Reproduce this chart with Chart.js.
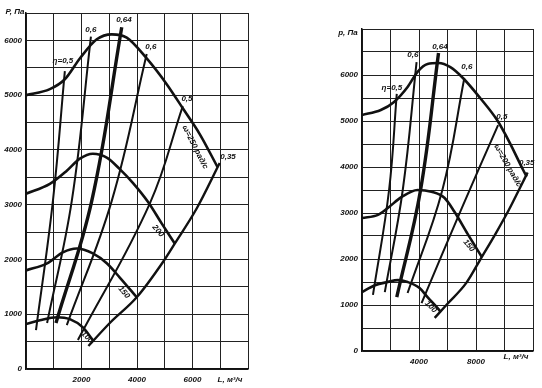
<!DOCTYPE html>
<html>
<head>
<meta charset="utf-8">
<script src="https://cdn.jsdelivr.net/npm/chart.js@4"></script>
<style>
  html, body { margin: 0; padding: 0; background: #fff; }
  body { width: 542px; height: 388px; position: relative; overflow: hidden; }
  canvas { position: absolute; left: 0; top: 0; }
</style>
</head>
<body>
<canvas id="left" width="542" height="388"></canvas>
<canvas id="right" width="542" height="388"></canvas>
<script>
// left chart, points are [L m3/h, P Pa]
const leftW250 = [[0,5000],[860,5110],[1400,5290],[1940,5670],[2550,6020],[3090,6110],[3630,6050],[4350,5670],[5070,5200],[5650,4760],[6260,4290],[6900,3690]];
const leftW200 = [[0,3200],[860,3380],[1470,3620],[1940,3840],[2410,3930],[2910,3860],[3380,3650],[3850,3400],[4400,3050],[4900,2650],[5360,2290]];
const leftW150 = [[0,1800],[760,1930],[1330,2130],[1830,2200],[2410,2110],[2910,1930],[3380,1670],[3990,1310]];
const leftW100 = [[0,820],[500,890],[1120,945],[1580,910],[2050,760],[2420,520]];
const leftEta05a = [[360,710],[970,3070],[1400,5440]];
const leftEta06a = [[760,840],[1650,3070],[2340,6070]];
const leftEta064 = [[1080,840],[2370,3070],[3450,6240]];
const leftEta06b = [[1470,800],[3090,3070],[4350,5750]];
const leftEta05b = [[1870,530],[4460,3020],[5650,4800]];
const leftEta035 = [[2250,420],[3020,840],[3990,1310],[4930,1950],[5360,2290],[6150,2930],[6980,3760]];

// right chart
const rightW200 = [[0,5130],[1320,5240],[2230,5410],[3200,5740],[3900,6070],[4600,6240],[5370,6260],[6200,6170],[7100,5930],[8290,5500],[9480,5020],[10380,4520],[11300,3940],[11560,3790]];
const rightW150 = [[0,2890],[1120,2960],[1810,3110],[2790,3350],[3900,3500],[4880,3460],[5780,3330],[6500,3020],[7400,2550],[8400,2050]];
const rightW100 = [[0,1280],[910,1430],[1810,1500],[2510,1540],[3200,1500],[4040,1370],[4600,1170],[5230,960],[5500,860]];
const rightEta05a = [[770,1220],[1900,3500],[2440,5590]];
const rightEta06a = [[1600,1280],[2860,3500],[3830,6280]];
const rightEta064 = [[2440,1170],[4110,3500],[5370,6480]];
const rightEta06b = [[3200,1260],[5640,3500],[7180,5930]];
const rightEta05b = [[4180,1040],[6950,3070],[9550,4910]];
const rightEta035 = [[5100,720],[5920,1000],[7320,1480],[8360,2020],[9410,2570],[10310,3070],[11010,3500],[11620,3880]];

const leftXLabels = [2000, 4000, 6000];
const rightXLabels = [4000, 8000];

// curve labels: [L, P, text, angle]
const leftNotes = [
  [1330,5620,'η=0,5',0],[2340,6200,'0,6',0],[3530,6370,'0,64',0],[4500,5880,'0,6',0],
  [5800,4930,'0,5',0],[7280,3870,'0,35',0],[6090,4050,'ω=250 рад/с',63],
  [4760,2520,'200',50],[3530,1400,'150',50],[2200,580,'100',45]
];
const rightNotes = [
  [2100,5730,'η=0,5',0],[3570,6450,'0,6',0],[5470,6620,'0,64',0],[7360,6170,'0,6',0],
  [9810,5100,'0,5',0],[11560,4100,'0,35',0],[10230,4030,'ω=200 рад/с',60],
  [7500,2290,'150',50],[4830,960,'100',45]
];

const ink = '#111';
const FONT = 'italic bold 8px "Liberation Sans", Arial, sans-serif';

Chart.defaults.font.family = '"Liberation Sans", Arial, sans-serif';
Chart.defaults.font.size = 8;
Chart.defaults.font.style = 'italic';
Chart.defaults.font.weight = 'bold';
Chart.defaults.color = ink;

const notesPlugin = {
  id: 'notes',
  afterDatasetsDraw(chart, args, opts) {
    const ctx = chart.ctx;
    const sx = chart.scales.x, sy = chart.scales.y;
    ctx.save();
    ctx.fillStyle = ink;
    ctx.font = FONT;
    ctx.textAlign = 'center';
    ctx.textBaseline = 'middle';
    opts.items.forEach(n => {
      ctx.save();
      ctx.translate(sx.getPixelForValue(n[0]), sy.getPixelForValue(n[1]));
      ctx.rotate(n[3] * Math.PI / 180);
      ctx.fillText(n[2], 0, 0);
      ctx.restore();
    });
    // axis titles
    ctx.fillText(opts.yTitle[0], opts.yTitle[1], opts.yTitle[2]);
    ctx.fillText(opts.xTitle[0], opts.xTitle[1], opts.xTitle[2]);
    ctx.restore();
  }
};

// pressure curves: monotone in L; efficiency lines: plain tension spline
function line(pts, width, smooth) {
  const ds = {
    data: pts.map(p => ({ x: p[0], y: p[1] })),
    showLine: true,
    borderColor: ink,
    borderWidth: width,
    pointRadius: 0,
    borderCapStyle: 'butt'
  };
  if (smooth) ds.tension = 0.4;
  else ds.cubicInterpolationMode = 'monotone';
  return ds;
}

function makeChart(id, cfg) {
  new Chart(document.getElementById(id), {
    type: 'scatter',
    data: { datasets: cfg.datasets },
    options: {
      responsive: false,
      animation: false,
      layout: { padding: cfg.padding },
      plugins: {
        legend: { display: false },
        tooltip: { enabled: false },
        notes: { items: cfg.notes, yTitle: cfg.yTitle, xTitle: cfg.xTitle }
      },
      scales: {
        x: {
          min: 0, max: cfg.xMax,
          afterFit: s => { s.height = 19; },
          border: { color: ink, width: 1.5 },
          grid: { color: '#222', lineWidth: 1, drawTicks: false },
          ticks: {
            stepSize: cfg.xStep, autoSkip: false, maxRotation: 0, padding: 6,
            callback: v => cfg.xLabels.includes(v) ? String(v) : ''
          }
        },
        y: {
          min: 0, max: cfg.yMax,
          afterFit: s => { s.width = cfg.yWidth; },
          border: { color: ink, width: 1.5 },
          grid: { color: '#222', lineWidth: 1, drawTicks: false },
          ticks: {
            stepSize: 500, autoSkip: false, padding: 4,
            callback: v => (v % 1000 === 0 && v <= 6000) ? String(v) : ''
          }
        }
      }
    },
    plugins: [notesPlugin]
  });
}

makeChart('left', {
  xMax: 8000, xStep: 1000, yMax: 6500, yWidth: 26, xLabels: leftXLabels,
  padding: { left: 0, top: 13, right: 294, bottom: 0 },
  notes: leftNotes,
  yTitle: ['P, Па', 15, 12],
  xTitle: ['L, м³/ч', 230, 380],
  datasets: [
    line(leftW250, 2.6), line(leftW200, 2.6), line(leftW150, 2.6), line(leftW100, 2.6),
    line(leftEta05a, 2, true), line(leftEta06a, 2, true), line(leftEta064, 3.4, true),
    line(leftEta06b, 2, true), line(leftEta05b, 2, true), line(leftEta035, 2.4)
  ]
});

makeChart('right', {
  xMax: 12000, xStep: 2000, yMax: 7000, yWidth: 30, xLabels: rightXLabels,
  padding: { left: 332, top: 29, right: 9, bottom: 18 },
  notes: rightNotes,
  yTitle: ['р, Па', 348, 33],
  xTitle: ['L, м³/ч', 516, 357],
  datasets: [
    line(rightW200, 2.6), line(rightW150, 2.6), line(rightW100, 2.6),
    line(rightEta05a, 2, true), line(rightEta06a, 2, true), line(rightEta064, 3.4, true),
    line(rightEta06b, 2, true), line(rightEta05b, 2, true), line(rightEta035, 2.4)
  ]
});
</script>
</body>
</html>
